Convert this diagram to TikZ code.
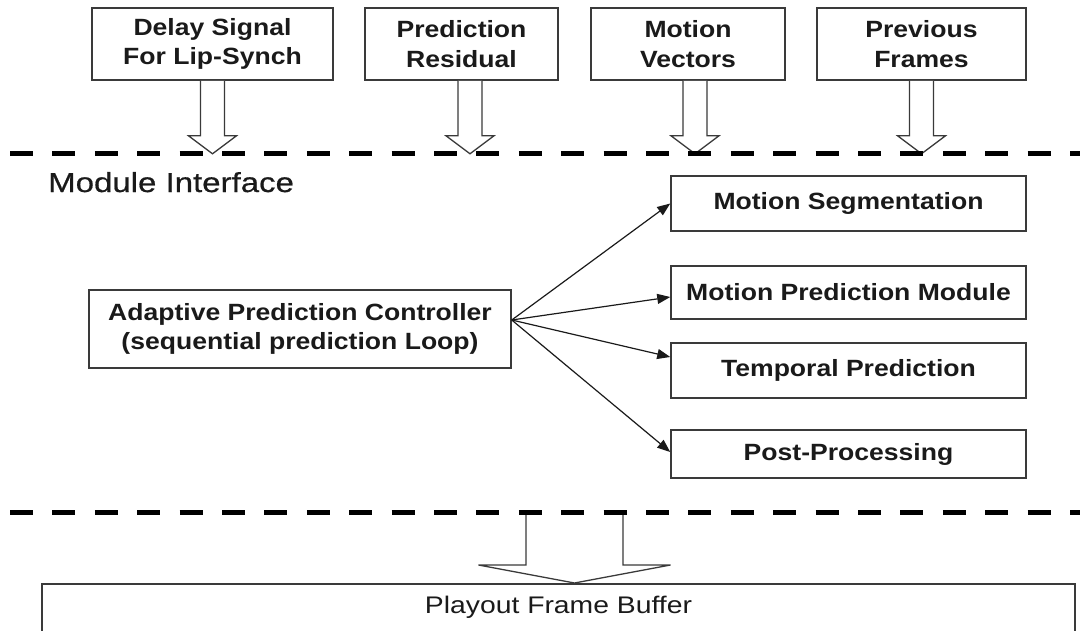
\documentclass[tikz,border=0pt]{standalone}
\usepackage{fontspec}
\setmainfont{Liberation Sans}
\newfontfamily\labelfont[FakeStretch=1.13]{Liberation Sans}
\newfontfamily\titlefont[FakeStretch=1.2,FakeBold=0.6]{Liberation Sans}
\newfontfamily\bufferfont[FakeStretch=1.18]{Liberation Sans}
\usetikzlibrary{arrows.meta,calc}
\definecolor{ink}{HTML}{1A1A1A}
\definecolor{frame}{HTML}{3A3A3A}

\tikzset{
  box/.style={draw=frame, line width=1.5pt, fill=white, inner sep=0pt, align=center,
    text=ink, font=\labelfont\bfseries\fontsize{23.5}{29.5}\selectfont},
  hollow/.style={draw=frame, line width=1.3pt, fill=white, line join=miter},
  sepline/.style={line width=5pt, draw=black, dash pattern=on 23pt off 19.4pt},
  feed/.style={draw=ink, line width=1.2pt, -{Triangle[length=13pt,width=10pt]}},
  % open-topped block arrow: half shaft width / half head width / shaft length / tip
  pics/downarrow/.style args={#1/#2/#3/#4}{code={
    \path[hollow] (-#1,0) -- (-#1,#3) -- (-#2,#3) -- (0,#4) -- (#2,#3) -- (#1,#3) -- (#1,0);
  }}
}

\begin{document}
\begin{tikzpicture}[x=1pt,y=-1pt]
\useasboundingbox (0,0) rectangle (1080,630);
\clip (0,0) rectangle (1080,630);

% input boxes
\node[box, minimum width=241pt, minimum height=72pt] (delay) at (212.5,44) {Delay Signal\\For Lip-Synch};
\node[box, minimum width=193pt, minimum height=72pt] (resid) at (461.5,44) {Prediction\\Residual};
\node[box, minimum width=194pt, minimum height=72pt] (mvec)  at (688,44)   {Motion\\Vectors};
\node[box, minimum width=209pt, minimum height=72pt] (prev)  at (921.5,44) {Previous\\Frames};

% block arrows down to the interface
\pic at (delay.south) {downarrow=12/24/55/73};
\pic at ([xshift=8.5pt]resid.south) {downarrow=12/24/55/73};
\pic at ([xshift=7pt]mvec.south) {downarrow=12/24/55/73};
\pic at (prev.south) {downarrow=12/24/55/73};

% interface boundaries
\coordinate (topL) at (10,153);
\coordinate (topR) at (1085,153);
\coordinate (botL) at (10,512);
\coordinate (botR) at (1085,512);

\node[anchor=base west, inner sep=0pt, text=ink,
  font=\titlefont\fontsize{27.5}{32}\selectfont] (iface) at (48,192) {Module Interface};

% controller and modules
\node[box, minimum width=422pt, minimum height=78pt] (apc) at (300,329)
  {Adaptive Prediction Controller\\(sequential prediction Loop)};
\node[box, minimum width=355pt, minimum height=55pt] (ms)  at (848.5,203.5) {Motion Segmentation};
\node[box, minimum width=355pt, minimum height=53pt] (mpm) at (848.5,292.5) {Motion Prediction Module};
\node[box, minimum width=355pt, minimum height=55pt] (tp)  at (848.5,370.5) {Temporal Prediction};
\node[box, minimum width=355pt, minimum height=48pt] (pp)  at (848.5,454)   {Post-Processing};

\coordinate (src) at ([yshift=9pt]apc.east);
\draw[feed] (src) -- (ms.west);
\draw[feed] (src) -- ([yshift=-4.5pt]mpm.west);
\draw[feed] (src) -- ([yshift=13.5pt]tp.west);
\draw[feed] (src) -- ([yshift=2pt]pp.west);

% output buffer
\node[draw=frame, line width=1.5pt, anchor=north, inner xsep=0pt, inner ysep=0pt,
  minimum width=1033pt, text height=30pt, text depth=32pt, text=ink,
  font=\bufferfont\fontsize{24}{28}\selectfont] (buf) at (558.5,583) {Playout Frame Buffer};
\pic at (574.5,512) {downarrow=48.5/96/53/71};

\draw[sepline] (topL) -- (topR);
\draw[sepline] (botL) -- (botR);
\end{tikzpicture}
\end{document}
